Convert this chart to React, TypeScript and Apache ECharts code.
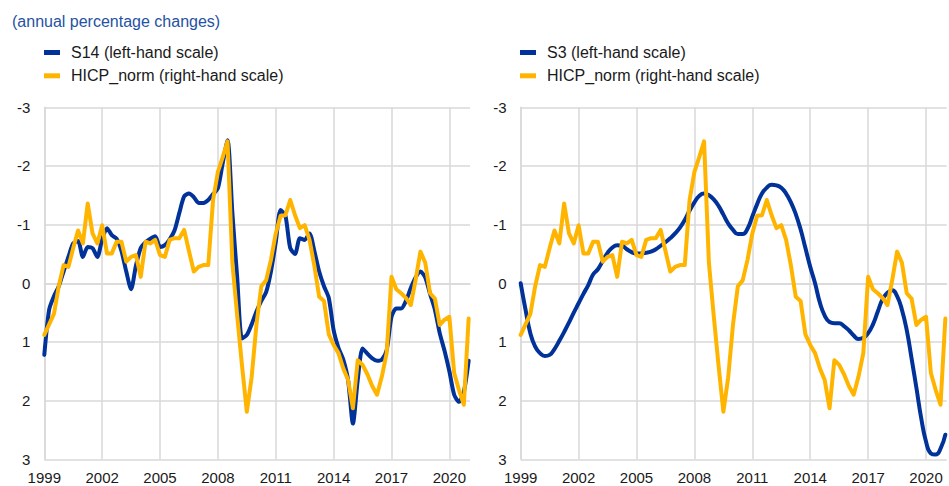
import React, { useEffect, useRef } from 'react';
import * as echarts from 'echarts';

const START_YEAR = 1999;
const TITLE = '(annual percentage changes)';
const NAME_S14 = 'S14 (left-hand scale)';
const NAME_S3 = 'S3 (left-hand scale)';
const NAME_HICP = 'HICP_norm (right-hand scale)';

// Quarterly values, 1999Q1 .. 2021Q1
const hicpNorm = [
  0.88, 0.7, 0.52, 0.05,
  -0.31, -0.28, -0.6, -0.9,
  -0.68, -1.36, -0.85, -0.68,
  -0.99, -0.51, -0.51, -0.71,
  -0.71, -0.37, -0.45, -0.48,
  -0.11, -0.71, -0.68, -0.74,
  -0.48, -0.45, -0.74, -0.77,
  -0.77, -0.91, -0.55, -0.2,
  -0.28, -0.31, -0.31, -1.42,
  -1.9, -2.15, -2.42, -0.35,
  0.55, 1.4, 2.19, 1.6,
  0.7, 0.05, -0.05, -0.4,
  -0.85, -1.15, -1.16, -1.42,
  -1.16, -0.94, -0.99, -0.74,
  -0.3, 0.23, 0.3, 0.87,
  1.05, 1.19, 1.45, 1.65,
  2.13, 1.31, 1.39, 1.55,
  1.75, 1.9, 1.59, 1.19,
  -0.11, 0.1, 0.17, 0.25,
  0.37, -0.06, -0.54, -0.35,
  0.17, 0.26, 0.71, 0.62,
  0.57, 1.53, 1.82, 2.07,
  0.6,
];

const s14 = [
  1.22, 0.45, 0.22, 0.05,
  -0.2, -0.45, -0.68, -0.72,
  -0.45, -0.62, -0.6, -0.45,
  -0.75, -0.94, -0.82, -0.76,
  -0.55, -0.2, 0.1, -0.3,
  -0.6, -0.7, -0.76, -0.8,
  -0.62, -0.65, -0.75, -0.9,
  -1.2, -1.48, -1.53, -1.47,
  -1.37, -1.37, -1.42, -1.52,
  -1.62, -2.05, -2.44, -1.2,
  -0.1, 0.94, 0.88, 0.7,
  0.48, 0.3, 0.15, -0.2,
  -0.7, -1.25, -1.15, -0.6,
  -0.5, -0.77, -0.74, -0.85,
  -0.55, -0.2, 0.05, 0.25,
  0.8, 1.1, 1.3, 1.65,
  2.39, 1.65, 1.11, 1.2,
  1.28, 1.32, 1.3, 1.14,
  0.57, 0.43, 0.43, 0.3,
  0.08, -0.1, -0.2, -0.1,
  0.18, 0.45, 0.85, 1.15,
  1.5, 1.9, 2.02, 1.85,
  1.32,
];

const s3 = [
  0.0, 0.45, 0.85, 1.08,
  1.19, 1.24, 1.22, 1.12,
  0.98, 0.83, 0.67, 0.5,
  0.34, 0.18, 0.03, -0.15,
  -0.24, -0.38, -0.52, -0.61,
  -0.65, -0.64, -0.58, -0.53,
  -0.51, -0.51, -0.52, -0.54,
  -0.58, -0.64, -0.7, -0.77,
  -0.85, -0.95, -1.08, -1.24,
  -1.38, -1.49, -1.53, -1.5,
  -1.43, -1.32, -1.17, -1.02,
  -0.91, -0.84, -0.84, -0.93,
  -1.14, -1.35, -1.53, -1.63,
  -1.68, -1.67, -1.63, -1.53,
  -1.38, -1.18, -0.92, -0.6,
  -0.28, 0.0, 0.33, 0.55,
  0.66, 0.68, 0.68, 0.73,
  0.8, 0.89, 0.95, 0.93,
  0.85, 0.7, 0.48, 0.27,
  0.16, 0.12, 0.22, 0.45,
  0.8, 1.28, 1.78, 2.3,
  2.7, 2.9, 2.92, 2.82,
  2.58,
];

const yTicks = { min: -3, max: 3, interval: 1 };
const xTicks = { min: 0, max: 22.07, interval: 3 };

const BLUE = '#003299';
const YELLOW = '#ffb400';
const GRID = '#d9d9d9';
const TEXT = '#1a1a1a';
const FONT = 'Arial, "Liberation Sans", Helvetica, sans-serif';

const toPairs = (vals: number[]) => vals.map((v, i) => [i / 4, v]);

export default function App() {
  const ref = useRef<HTMLDivElement>(null);
  useEffect(() => {
    document.body.style.margin = '0';
    const chart = echarts.init(ref.current as HTMLDivElement, null, { renderer: 'svg' });

    const xAxis = (gridIndex: number) => ({
      type: 'value',
      gridIndex,
      min: xTicks.min,
      max: xTicks.max,
      interval: xTicks.interval,
      axisLine: { show: true, lineStyle: { color: GRID, width: 1.5 } },
      axisTick: { show: false },
      axisLabel: {
        color: TEXT,
        fontSize: 15,
        fontFamily: FONT,
        margin: 11,
        showMaxLabel: false,
        formatter: (v: number) =>
          Math.abs(v / 3 - Math.round(v / 3)) < 1e-6 ? String(START_YEAR + Math.round(v)) : '',
      },
      splitLine: { show: true, showMaxLine: false, lineStyle: { color: GRID, width: 1.5 } },
    });

    const yAxis = (gridIndex: number) => ({
      type: 'value',
      gridIndex,
      min: yTicks.min,
      max: yTicks.max,
      interval: yTicks.interval,
      inverse: true,
      axisLine: { show: true, lineStyle: { color: GRID, width: 1.5 } },
      axisTick: { show: false },
      axisLabel: { color: TEXT, fontSize: 15, fontFamily: FONT, margin: 14 },
      splitLine: { show: true, lineStyle: { color: GRID, width: 1.5 } },
    });

    const line = (name: string, vals: number[], color: string, idx: number, smooth: any, z: number) => ({
      name,
      type: 'line',
      xAxisIndex: idx,
      yAxisIndex: idx,
      data: toPairs(vals),
      showSymbol: false,
      smooth,
      z,
      lineStyle: { color, width: 4, join: 'round', cap: 'round' },
      itemStyle: { color },
    });

    const legend = (left: number, names: string[]) => ({
      left,
      top: 39.5,
      orient: 'vertical',
      icon: 'rect',
      itemWidth: 16,
      itemHeight: 5,
      itemGap: 7.3,
      data: names,
      textStyle: { fontSize: 16, color: TEXT, fontFamily: FONT, padding: [0, 0, 0, 6] },
    });

    chart.setOption({
      animation: false,
      textStyle: { fontFamily: FONT },
      title: {
        text: TITLE,
        left: 7,
        top: 8,
        textStyle: { fontSize: 16, fontWeight: 'normal', color: '#2452a3', fontFamily: FONT },
      },
      legend: [legend(39, [NAME_S14, NAME_HICP]), legend(515, [NAME_S3, NAME_HICP])],
      grid: [
        { left: 44.3, top: 107.3, width: 425.7, height: 352 },
        { left: 520.7, top: 107.3, width: 426, height: 352 },
      ],
      xAxis: [xAxis(0), xAxis(1)],
      yAxis: [yAxis(0), yAxis(1)],
      series: [
        line(NAME_S14, s14, BLUE, 0, 0.25, 2),
        line(NAME_HICP, hicpNorm, YELLOW, 0, false, 3),
        line(NAME_S3, s3, BLUE, 1, true, 2),
        line(NAME_HICP, hicpNorm, YELLOW, 1, false, 3),
      ],
    });
    return () => chart.dispose();
  }, []);
  return <div ref={ref} style={{ position: 'absolute', left: 0, top: 0, width: 949, height: 486 }} />;
}
